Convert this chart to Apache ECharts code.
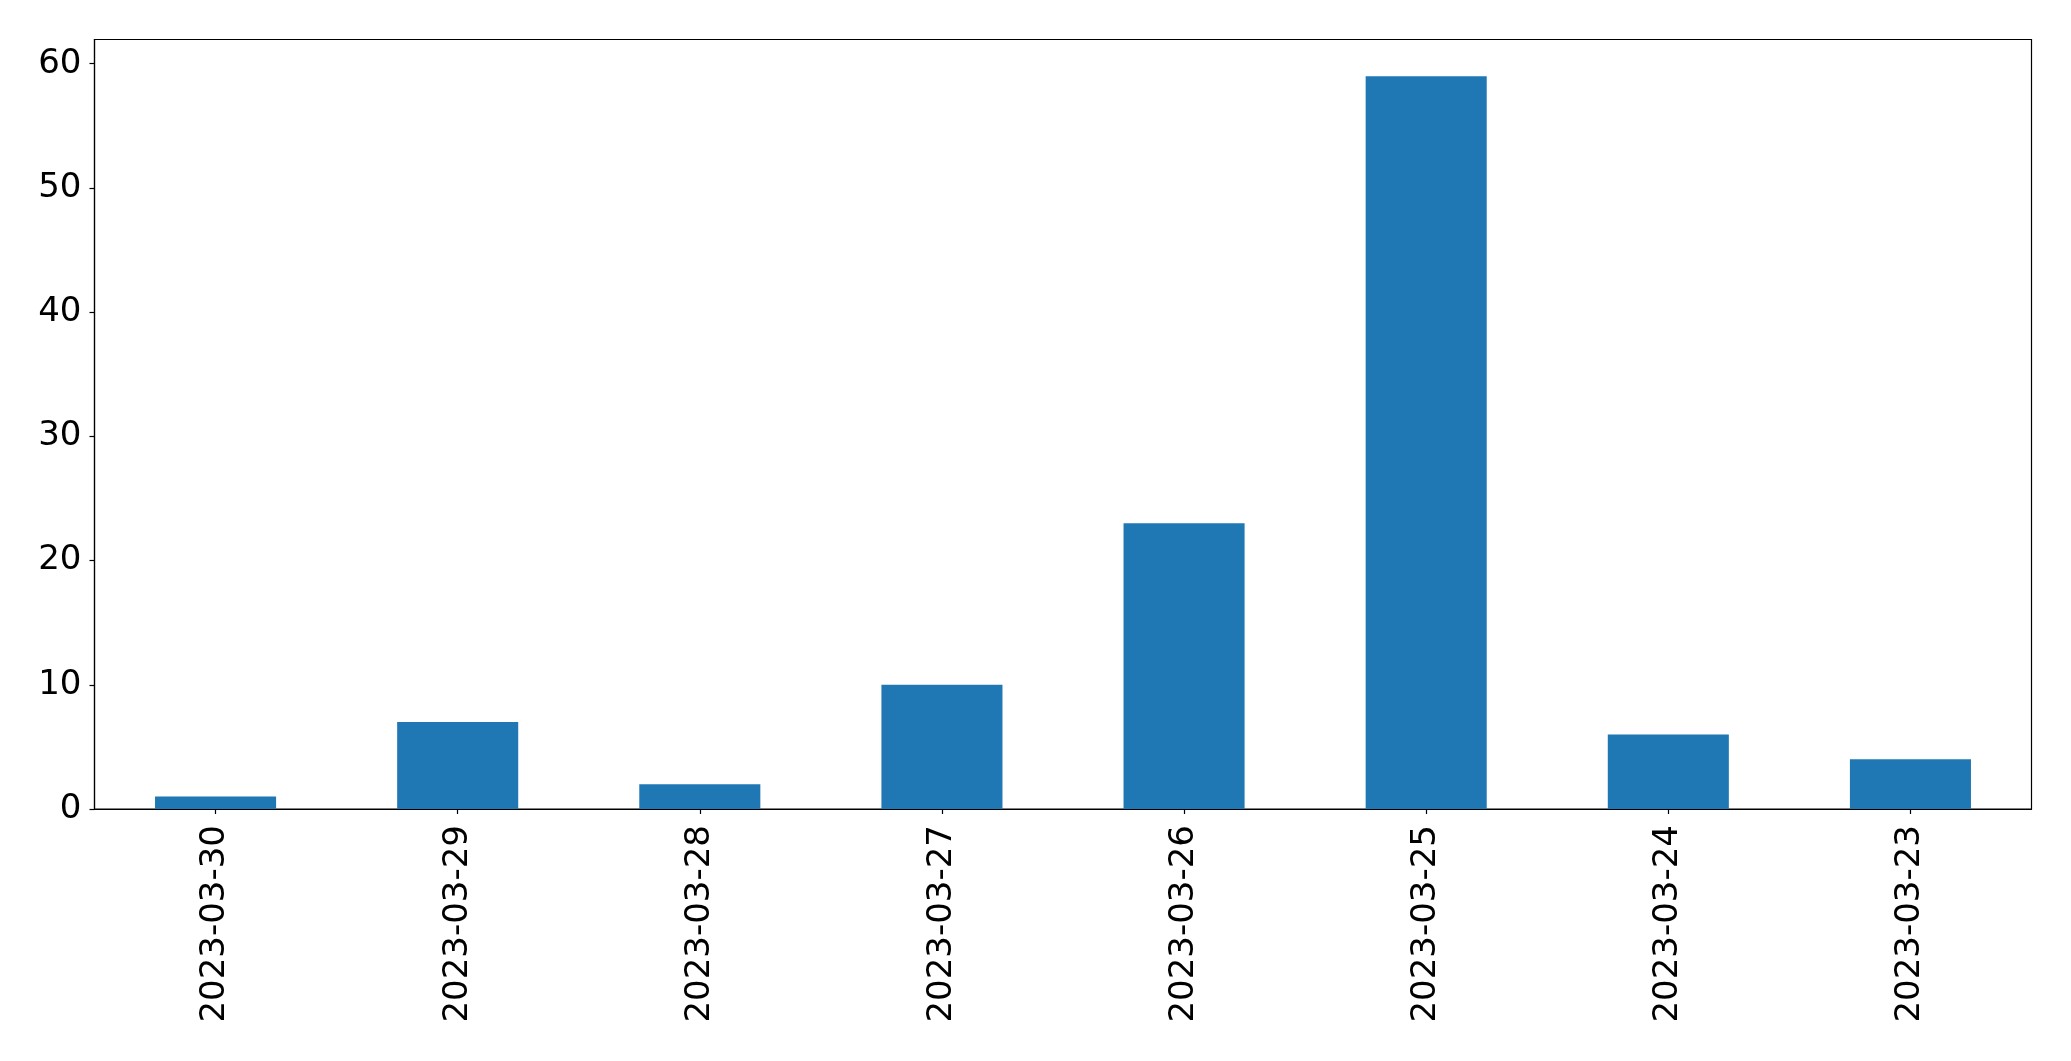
<!DOCTYPE html>
<html>
<head>
<meta charset="utf-8">
<script src="https://cdn.jsdelivr.net/npm/echarts@6/dist/echarts.min.js"></script>
<style>
html,body{margin:0;padding:0;background:#fff;}
#chart{width:2071px;height:1061px;}
</style>
</head>
<body>
<div id="chart"></div>
<script>
const categories = ["2023-03-30","2023-03-29","2023-03-28","2023-03-27","2023-03-26","2023-03-25","2023-03-24","2023-03-23"];
const values = [1, 7, 2, 10, 23, 59, 6, 4];
const yTicks = [0, 10, 20, 30, 40, 50, 60];

const chart = echarts.init(document.getElementById('chart'), null, {renderer: 'canvas'});
const font = 'DejaVu Sans';
chart.setOption({
  animation: false,
  backgroundColor: '#ffffff',
  grid: {
    left: 94.5, top: 39.5, right: 39.5, bottom: 252,
    show: true, borderColor: '#000', borderWidth: 1.2, backgroundColor: 'transparent'
  },
  xAxis: {
    type: 'category',
    data: categories,
    boundaryGap: true,
    axisLine: {show: true, lineStyle: {color: '#000', width: 1.2}},
    axisTick: {show: true, alignWithLabel: true, length: 5, lineStyle: {color: '#000', width: 1.2}},
    axisLabel: {rotate: 90, margin: 16, color: '#000', fontFamily: font, fontSize: 34},
    splitLine: {show: false}
  },
  yAxis: {
    type: 'value',
    min: 0,
    max: 61.95,
    interval: 10,
    axisLine: {show: true, lineStyle: {color: '#000', width: 1.2}},
    axisTick: {show: true, length: 5, lineStyle: {color: '#000', width: 1.2}, customValues: yTicks},
    axisLabel: {margin: 13, color: '#000', fontFamily: font, fontSize: 34, customValues: yTicks},
    splitLine: {show: false}
  },
  series: [{
    type: 'bar',
    data: values,
    barWidth: '50%',
    itemStyle: {color: '#1f77b4'}
  }]
});
</script>
</body>
</html>
